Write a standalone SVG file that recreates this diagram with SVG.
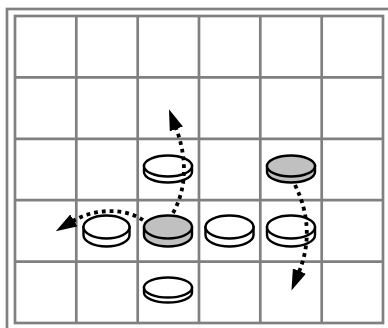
<svg xmlns="http://www.w3.org/2000/svg" width="388" height="328" viewBox="0 0 388 328">
<style>
.grid{fill:none;stroke:#808080;stroke-width:2.7}
.coin path,.coin ellipse{stroke:#000;stroke-width:2.4}
.white path,.white ellipse{fill:#fff}
.gray path,.gray ellipse{fill:#c0c0c0}
.move{fill:none;stroke:#000;stroke-width:3.8;stroke-dasharray:3.8 4;marker-end:url(#head)}
</style>
<defs>
<marker id="head" viewBox="0 0 21 14" markerWidth="21" markerHeight="14" refX="1" refY="7" orient="auto" markerUnits="userSpaceOnUse">
<path d="M0,0 L21,7 L0,14 Z" fill="#000"/>
</marker>
</defs>
<rect x="0" y="0" width="388" height="328" fill="#fff"/>
<g id="board">
<rect class="grid" x="7" y="9" width="400" height="400"/>
<rect class="grid" x="15" y="16" width="368" height="307"/>
<path class="grid" d="M76.3,16V323M137.7,16V323M199,16V323M260.3,16V323M321.7,16V323M15,77.4H383M15,138.8H383M15,200.2H383M15,261.6H383"/>
</g>
<g id="piece-c2r2" class="coin white" transform="translate(168,166)">
<path d="M-24,0 V6 A24,10.5 0 0 0 24,6 V0 Z"/><ellipse cx="0" cy="0" rx="24" ry="10.5"/>
</g>
<g id="piece-c4r2" class="coin gray" transform="translate(291,166)">
<path d="M-24,0 V6 A24,10.5 0 0 0 24,6 V0 Z"/><ellipse cx="0" cy="0" rx="24" ry="10.5"/>
</g>
<g id="piece-c1r3" class="coin white" transform="translate(106.5,227)">
<path d="M-23,0 V8 A23,11.5 0 0 0 23,8 V0 Z"/><ellipse cx="0" cy="0" rx="23" ry="11.5"/>
</g>
<g id="piece-c2r3" class="coin gray" transform="translate(168,227)">
<path d="M-24,0 V8 A24,11.5 0 0 0 24,8 V0 Z"/><ellipse cx="0" cy="0" rx="24" ry="11.5"/>
</g>
<g id="piece-c3r3" class="coin white" transform="translate(229.5,227)">
<path d="M-24,0 V8 A24,11.5 0 0 0 24,8 V0 Z"/><ellipse cx="0" cy="0" rx="24" ry="11.5"/>
</g>
<g id="piece-c4r3" class="coin white" transform="translate(291,227)">
<path d="M-24,0 V8 A24,11.5 0 0 0 24,8 V0 Z"/><ellipse cx="0" cy="0" rx="24" ry="11.5"/>
</g>
<g id="piece-c2r4" class="coin white" transform="translate(168,287.5)">
<path d="M-24,0 V5 A24,10 0 0 0 24,5 V0 Z"/><ellipse cx="0" cy="0" rx="24" ry="10"/>
</g>
<g id="connectors">
<path class="move" d="M173,213 C186,190 188,160 176,128"/>
<path class="move" d="M143,220 C125,208 95,208 73,221"/>
<path class="move" d="M295,185 C310,215 310,245 299,272"/>
</g>
</svg>
